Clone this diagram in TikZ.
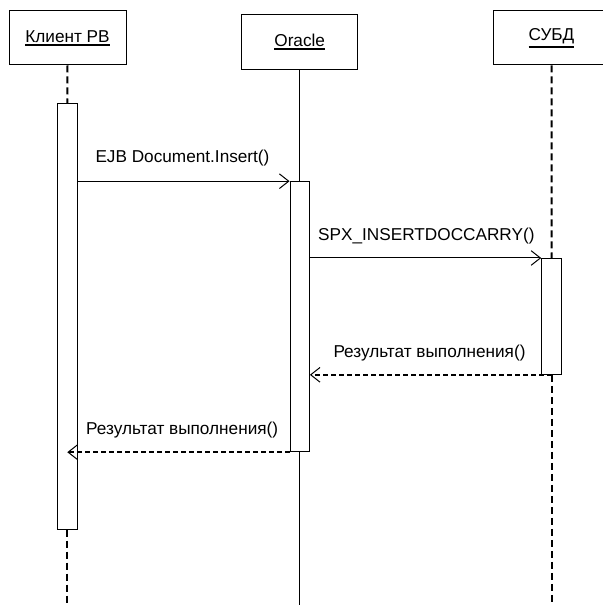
\documentclass[tikz,border=0pt]{standalone}
\usepackage{fontspec}
\setmainfont{Liberation Sans}
\usetikzlibrary{arrows.meta}

\newcommand\headtext[1]{\leavevmode\vtop{\hbox{#1}\kern1.6pt\hrule height 1.1pt}}

\tikzset{every picture/.style={line width=0.75pt}}
\tikzset{
  lifebox/.style={draw, rectangle, inner sep=0pt, minimum width=87.75pt, minimum height=40.5pt, font=\fontsize{12.9}{15}\selectfont},
  actbar/.style={draw, rectangle, inner sep=0pt, minimum width=15pt, fill=white},
  msgtext/.style={anchor=base west, inner sep=0pt, font=\fontsize{12.9}{15}\selectfont},
  lifedash/.style={line width=1.5pt, dash pattern=on 5.25pt off 3pt},
  lifesolid/.style={line width=0.75pt},
  call/.style={line width=0.75pt, -{Straight Barb[length=7pt,width=11pt,line width=0.75pt]}},
  reply/.style={line width=1.5pt, dash pattern=on 3.75pt off 2.25pt, -{Straight Barb[length=7pt,width=11pt,line width=0.75pt]}}
}

\begin{document}
\begin{tikzpicture}[x=0.75pt,y=0.75pt,yscale=-1,xscale=1]
\useasboundingbox (0,0) rectangle (602,605);

% Lifeline heads
\node [lifebox] (client) at (67.5,38) {\headtext{Клиент РВ}};
\node [lifebox, minimum width=87pt, minimum height=41pt] (oracle) at (299.7,41.7) {\headtext{Oracle}};
\node [lifebox] (dbms) at (551.5,38) {\headtext{СУБД}};

% Lifeline ends
\coordinate (clientEnd) at (67.3,605);
\coordinate (oracleEnd) at (299.7,605);
\coordinate (dbmsEnd) at (551.7,605);

% Activation bars
\node [actbar, minimum height=318.75pt] (clientAct) at (67.3,316.5) {};
\node [actbar, minimum width=14.5pt, minimum height=202.5pt] (oracleAct) at (299.7,316.7) {};
\node [actbar, minimum height=86.85pt] (dbmsAct) at (551.7,316.4) {};

% Lifelines
\draw [lifedash] (client.south) -- (clientAct.north);
\draw [lifedash] (clientAct.south) -- (clientEnd);
\draw [lifesolid] (oracle.south) -- (oracleAct.north);
\draw [lifesolid] (oracleAct.south) -- (oracleEnd);
\draw [lifedash] (dbms.south) -- (dbmsAct.north);
\draw [lifedash] (dbmsAct.south) -- (dbmsEnd);

% Messages
\draw [call] (clientAct.east |- oracleAct.north) -- (oracleAct.north west);
\draw [call] (oracleAct.east |- dbmsAct.north) -- (dbmsAct.north west);
\draw [reply] (dbmsAct.south) -- (oracleAct.east |- dbmsAct.south);
\draw [reply] (oracleAct.south west) -- (clientAct.center |- oracleAct.south);

% Text Node
\node [msgtext] (callA) at (95,163) {EJB Document.Insert()};
% Text Node
\node [msgtext] (callB) at (317.7,240.5) {SPX\_INSERTDOCCARRY()};
% Text Node
\node [msgtext] (replyB) at (333,357) {Результат выполнения()};
% Text Node
\node [msgtext] (replyA) at (85.7,434) {Результат выполнения()};

\end{tikzpicture}
\end{document}
